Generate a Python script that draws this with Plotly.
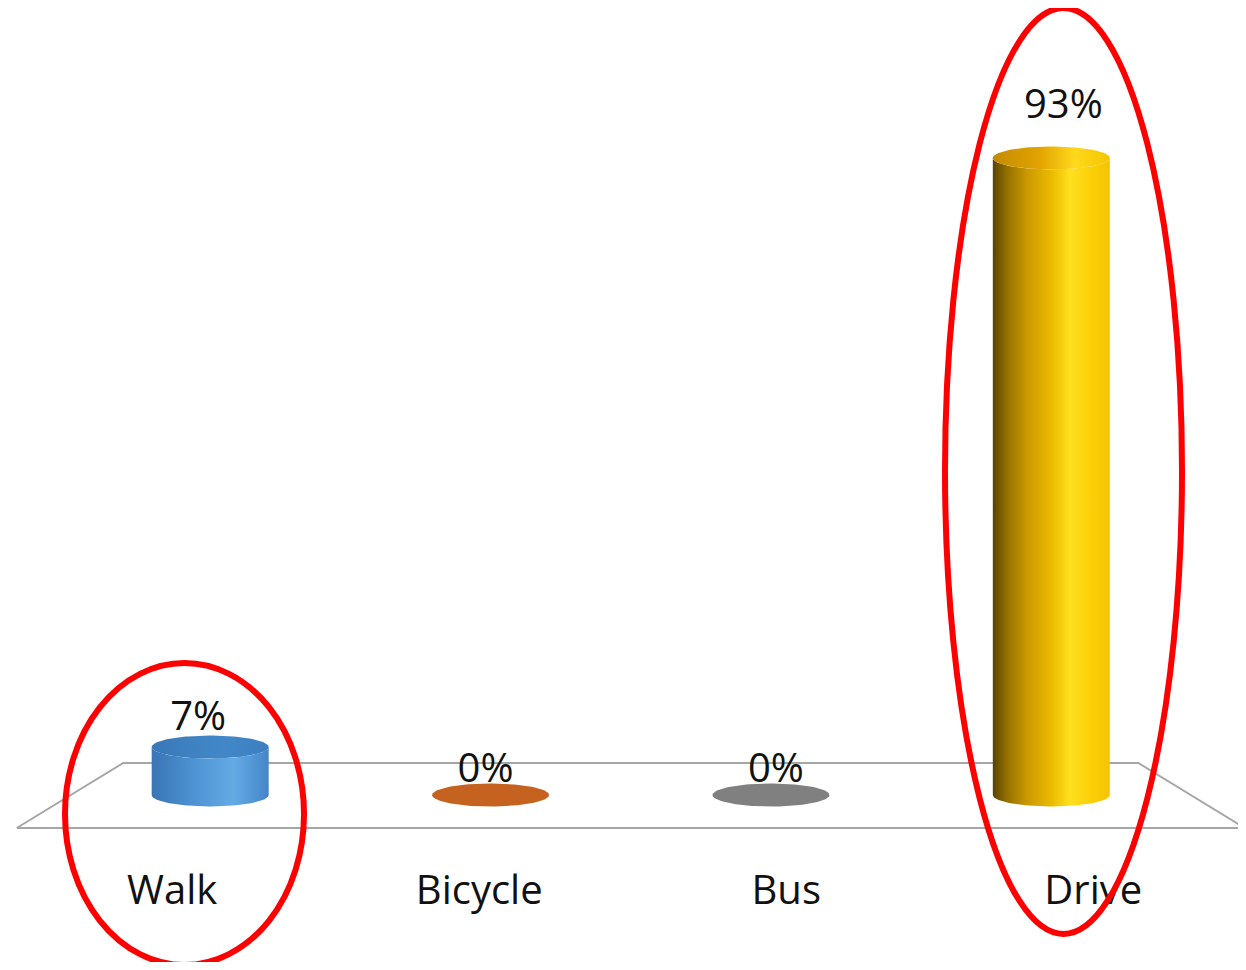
import numpy as np
import plotly.graph_objects as go

# ---- data ----
categories = ["Walk", "Bicycle", "Bus", "Drive"]
values = [7, 0, 0, 93]
value_labels = ["7%", "0%", "0%", "93%"]

# ---- styles ----
body_scales = [
    [[0, "#3a74b4"], [0.35, "#4d92d2"], [0.7, "#64abe6"], [1, "#4585c8"]],
    None,
    None,
    [[0, "#584400"], [0.12, "#957000"], [0.3, "#cc9a00"], [0.5, "#ebba00"],
     [0.66, "#ffe01e"], [0.82, "#fbd10a"], [1, "#f4c300"]],
]
top_scales = [
    [[0, "#3a78b8"], [0.6, "#4288c8"], [1, "#3d7fc0"]],
    [[0, "#c5621f"], [1, "#c5621f"]],
    [[0, "#808080"], [1, "#808080"]],
    [[0, "#c48a00"], [0.4, "#e2a400"], [0.7, "#ffd81c"], [1, "#f4c600"]],
]
label_dx_px = [-12, -5, 5, 12]      # horizontal nudge of value labels
label_dy_px = [27, 23, 23, 50]      # vertical offset of value labels above bar top

OFF = 8                              # default page margin of the browser
W, H = 1246 - 2 * OFF, 970 - 2 * OFF
PX_X = 280.375                       # pixels per category unit at mid depth
X_LEFT = -0.5 - (70 - OFF) / PX_X
X_RIGHT = X_LEFT + W / PX_X
PX_Y = 6.85                          # pixels per percent
Y_BASE_PX = 795
Y_TOP = (Y_BASE_PX - OFF) / PX_Y
Y_BOTTOM = -(OFF + H - Y_BASE_PX) / PX_Y


def px2x(p):
    return X_LEFT + (p - OFF) / PX_X


def px2y(p):
    return (Y_BASE_PX - p) / PX_Y


A = 58.5 / PX_X      # cylinder radius (x units)
B = 11.5 / PX_Y      # ellipse half height (y units)
CENTER = (len(categories) - 1) / 2
FRONT_SCALE = 614 / (2 * PX_X)
BACK_SCALE = 507.5 / (2 * PX_X)

fig = go.Figure()

# floor
half_n = len(categories) / 2
fx = [CENTER - half_n * FRONT_SCALE, CENTER - half_n * BACK_SCALE,
      CENTER + half_n * BACK_SCALE, CENTER + half_n * FRONT_SCALE,
      CENTER - half_n * FRONT_SCALE]
fy = [px2y(828), px2y(763), px2y(763), px2y(828), px2y(828)]
fig.add_trace(go.Scatter(x=fx, y=fy, mode="lines", cliponaxis=False,
                         line=dict(color="#a6a6a6", width=2), hoverinfo="skip"))

for i, v in enumerate(values):
    if v > 0:
        t1 = np.linspace(np.pi, 2 * np.pi, 60)
        bottom_x = i + A * np.cos(t1)
        bottom_y = 0 + B * np.sin(t1)
        top_x = (i + A * np.cos(t1))[::-1]
        top_y = (v + B * np.sin(t1))[::-1]
        px_ = list(bottom_x) + list(top_x) + [bottom_x[0]]
        py_ = list(bottom_y) + list(top_y) + [bottom_y[0]]
        fig.add_trace(go.Scatter(
            x=px_, y=py_, mode="lines", fill="toself", line=dict(width=0),
            fillgradient=dict(type="horizontal", colorscale=body_scales[i]),
            hoverinfo="skip"))
    t = np.linspace(0, 2 * np.pi, 120)
    fig.add_trace(go.Scatter(
        x=i + A * np.cos(t), y=v + B * np.sin(t), mode="lines", fill="toself",
        line=dict(width=0),
        fillgradient=dict(type="horizontal", colorscale=top_scales[i]),
        hoverinfo="skip"))

# value labels
fig.add_trace(go.Scatter(
    x=[i + label_dx_px[i] / PX_X for i in range(len(values))],
    y=[v + label_dy_px[i] / PX_Y for i, v in enumerate(values)],
    mode="text", text=value_labels, textposition="middle center",
    textfont=dict(family="Open Sans", size=40, color="#111111"), hoverinfo="skip"))

# category labels along the floor front edge
fig.add_trace(go.Scatter(
    x=[CENTER + (i - CENTER) * FRONT_SCALE + 2 / PX_X for i in range(len(categories))],
    y=[px2y(894)] * len(categories),
    mode="text", text=categories, textposition="middle center",
    textfont=dict(family="Open Sans", size=40, color="#111111"), hoverinfo="skip"))

# red highlight ellipses
for (x0, y0, x1, y1) in [(65, 663, 304, 965), (945, 8, 1182, 934)]:
    fig.add_shape(type="circle", xref="x", yref="y",
                  x0=px2x(x0), x1=px2x(x1), y0=px2y(y1), y1=px2y(y0),
                  line=dict(color="#ff0000", width=6), layer="above")

fig.update_layout(
    width=W, height=H, margin=dict(l=0, r=0, t=0, b=0),
    paper_bgcolor="white", plot_bgcolor="white", showlegend=False,
    xaxis=dict(range=[X_LEFT, X_RIGHT], visible=False, fixedrange=True),
    yaxis=dict(range=[Y_BOTTOM, Y_TOP], visible=False, fixedrange=True),
)

fig.write_html("out.html")
